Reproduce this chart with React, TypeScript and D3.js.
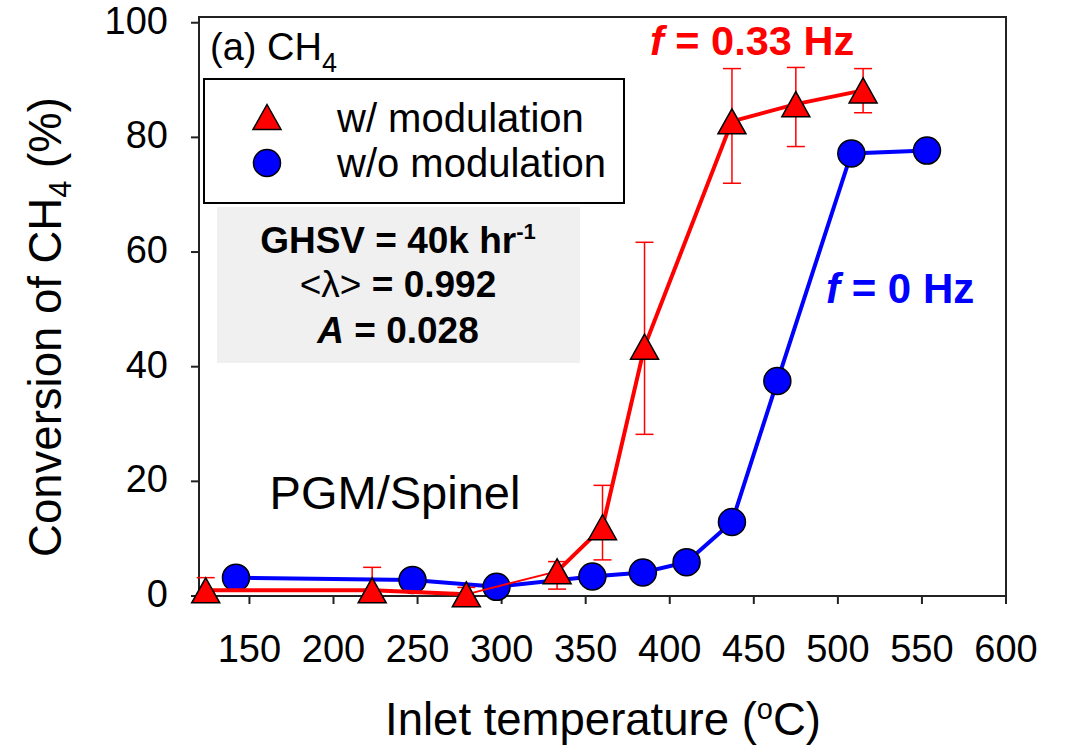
import * as d3 from "d3";

// w/ modulation (f = 0.33 Hz)
const redTemp = [124, 223, 279, 333, 360, 385, 437, 475, 515];
const redConv = [1.0, 1.0, 0.3, 4.3, 12.0, 43.5, 82.8, 85.8, 88.2];
const redHi = [3.2, 5.0, 1.5, 6.0, 19.3, 61.7, 92.0, 92.2, 92.0];
const redLo = [0, 0, 0, 1.2, 6.3, 28.2, 72.0, 78.4, 84.3];

// w/o modulation (f = 0 Hz)
const blueTemp = [142, 247, 297, 354, 384, 410, 437, 464, 508, 553];
const blueConv = [3.2, 2.8, 1.6, 3.4, 4.1, 5.9, 12.9, 37.5, 77.2, 77.7];

const xTicks = [150, 200, 250, 300, 350, 400, 450, 500, 550, 600];
const yTicks = [0, 20, 40, 60, 80, 100];

const FONT = "'Liberation Sans', Arial, sans-serif";
const RED = "#ff0000";
const BLUE = "#0000ff";

const W = 1066;
const H = 747;
const plot = { left: 199, right: 1006, top: 17, bottom: 596 };

// triangle centred on its bounding box
const tri = (cx: number, cy: number, w = 28, h = 25) =>
  `M${cx},${cy - h / 2}L${cx + w / 2},${cy + h / 2}L${cx - w / 2},${cy + h / 2}Z`;

export default function App() {
  const x = d3.scaleLinear().domain([120, 600]).range([plot.left, plot.right]);
  const y = d3.scaleLinear().domain([0, 101]).range([plot.bottom, plot.top]);

  const red = redTemp.map((t, i) => ({ t, v: redConv[i], hi: redHi[i], lo: redLo[i] }));
  const blue = blueTemp.map((t, i) => ({ t, v: blueConv[i] }));

  const line = d3
    .line<{ t: number; v: number }>()
    .x((d) => x(d.t))
    .y((d) => y(d.v));

  // the segment 279 -> 333 is drawn thin in the original
  const redThick = [...red.slice(0, 3)];
  const redThin = red.slice(2, 4);
  const redRest = red.slice(3);

  const axisCol = "#222";

  return (
    <svg
      width={W}
      height={H}
      style={{ position: "absolute", left: 0, top: 0, background: "#fff" }}
      fontFamily={FONT}
    >
      {/* frame */}
      <rect
        x={plot.left}
        y={plot.top}
        width={plot.right - plot.left}
        height={plot.bottom - plot.top}
        fill="none"
        stroke={axisCol}
        strokeWidth={2}
      />

      {/* x axis */}
      {xTicks.map((t) => (
        <g key={"x" + t}>
          <line x1={x(t)} x2={x(t)} y1={plot.bottom} y2={plot.bottom + 8} stroke={axisCol} strokeWidth={2} />
          <text x={x(t)} y={662} fontSize={38} textAnchor="middle" fill="#000">
            {t}
          </text>
        </g>
      ))}

      {/* y axis */}
      {yTicks.map((v) => (
        <g key={"y" + v}>
          <line x1={plot.left - 8} x2={plot.left} y1={y(v)} y2={y(v)} stroke={axisCol} strokeWidth={2} />
          <text x={168} y={y(v) + 11} fontSize={38} textAnchor="end" fill="#000">
            {v}
          </text>
        </g>
      ))}

      {/* axis titles */}
      <text x={603} y={735} fontSize={45.5} textAnchor="middle" fill="#000">
        Inlet temperature (
        <tspan fontSize={29} dy={-16}>o</tspan>
        <tspan dy={16}>C)</tspan>
      </text>
      <text
        transform="translate(61,327) rotate(-90)"
        fontSize={45.5}
        textAnchor="middle"
        fill="#000"
      >
        Conversion of CH
        <tspan fontSize={31} dy={10}>4</tspan>
        <tspan dy={-10}> (%)</tspan>
      </text>

      {/* panel label */}
      <text x={210} y={60} fontSize={38} fill="#000">
        (a) CH<tspan fontSize={27} dy={12}>4</tspan>
      </text>

      {/* legend */}
      <rect x={204} y={79} width={420} height={124} fill="#fff" stroke="#000" strokeWidth={2} />
      <path d={tri(267, 117)} fill={RED} stroke="#000" strokeWidth={1.5} />
      <circle cx={267} cy={163} r={13.5} fill={BLUE} stroke="#000" strokeWidth={1.5} />
      <text x={337} y={132} fontSize={40} fill="#000">
        w/ modulation
      </text>
      <text x={337} y={177} fontSize={40} fill="#000">
        w/o modulation
      </text>

      {/* conditions box */}
      <rect x={217} y={207} width={363} height={156} fill="#f0f0f0" />
      <text x={398} y={253} fontSize={37} fontWeight="bold" textAnchor="middle" fill="#000">
        GHSV = 40k hr<tspan fontSize={22} dy={-14}>-1</tspan>
      </text>
      <text x={398} y={297} fontSize={37} fontWeight="bold" textAnchor="middle" fill="#000">
        <tspan fontWeight="normal">&lt;λ&gt;</tspan> = 0.992
      </text>
      <text x={398} y={343} fontSize={37} fontWeight="bold" textAnchor="middle" fill="#000">
        <tspan fontStyle="italic">A</tspan> = 0.028
      </text>

      <text x={395} y={509} fontSize={47} textAnchor="middle" fill="#000">
        PGM/Spinel
      </text>

      {/* frequency labels */}
      <text x={650} y={55} fontSize={41.5} fontWeight="bold" fill={RED}>
        <tspan fontStyle="italic">f</tspan> = 0.33 Hz
      </text>
      <text x={826} y={303} fontSize={42} fontWeight="bold" fill={BLUE}>
        <tspan fontStyle="italic">f</tspan> = 0 Hz
      </text>

      {/* w/o modulation series */}
      <path d={line(blue) ?? ""} fill="none" stroke={BLUE} strokeWidth={4} />
      {blue.map((d, i) => (
        <circle key={"b" + i} cx={x(d.t)} cy={y(d.v)} r={13.5} fill={BLUE} stroke="#000" strokeWidth={1.5} />
      ))}

      {/* w/ modulation series */}
      <path d={line(redThick) ?? ""} fill="none" stroke={RED} strokeWidth={4} />
      <path d={line(redThin) ?? ""} fill="none" stroke={RED} strokeWidth={1.8} />
      <path d={line(redRest) ?? ""} fill="none" stroke={RED} strokeWidth={4} />
      {red.map((d, i) => (
        <g key={"e" + i} stroke={RED} strokeWidth={1.5}>
          <line x1={x(d.t)} x2={x(d.t)} y1={y(d.hi)} y2={y(Math.max(d.lo, 0))} />
          <line x1={x(d.t) - 9} x2={x(d.t) + 9} y1={y(d.hi)} y2={y(d.hi)} />
          {d.lo > 0 && <line x1={x(d.t) - 9} x2={x(d.t) + 9} y1={y(d.lo)} y2={y(d.lo)} />}
        </g>
      ))}
      {red.map((d, i) => (
        <path key={"r" + i} d={tri(x(d.t), y(d.v))} fill={RED} stroke="#000" strokeWidth={1.5} />
      ))}
    </svg>
  );
}
